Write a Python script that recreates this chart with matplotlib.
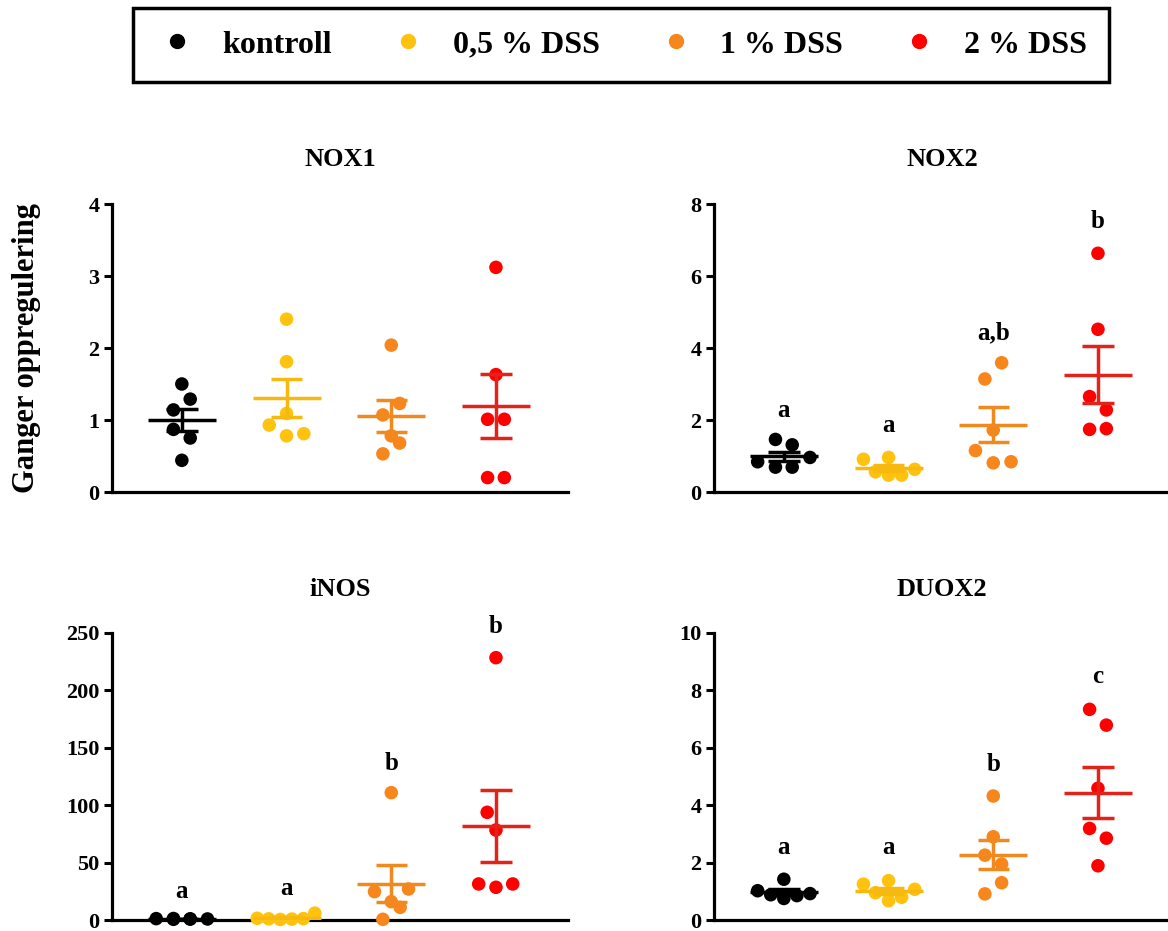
import numpy as np
import matplotlib
matplotlib.use('Agg')
import matplotlib.pyplot as plt
from matplotlib.lines import Line2D

plt.rcParams['font.family'] = ['Liberation Serif', 'DejaVu Serif']
plt.rcParams['font.weight'] = 'bold'

# groups and colours
groups = ['kontroll', '0,5 % DSS', '1 % DSS', '2 % DSS']
dot_colors = ['#000000', '#FFC20E', '#F7861C', '#FF0000']
line_colors = ['#000000', '#F7B90F', '#F08A1E', '#E2231A']

# fold change per gene, one list per group
nox1 = [[1.50, 1.29, 1.14, 0.87, 0.75, 0.44],
        [2.40, 1.81, 1.09, 0.93, 0.78, 0.81],
        [2.04, 1.23, 1.07, 0.78, 0.68, 0.53],
        [3.12, 1.63, 1.01, 1.01, 0.20, 0.20]]
nox2 = [[1.46, 1.31, 0.84, 0.69, 0.69, 0.96],
        [0.91, 0.96, 0.56, 0.47, 0.47, 0.63],
        [3.59, 3.14, 1.72, 1.15, 0.81, 0.84],
        [6.63, 4.52, 2.65, 2.28, 1.74, 1.76]]
inos = [[1.2, 0.6, 1.0, 0.9, 1.3, 0.8],
        [1.5, 1.0, 0.5, 0.8, 1.2, 6.0],
        [110.9, 24.7, 27.0, 16.0, 11.0, 0.6],
        [228.5, 93.8, 78.4, 31.4, 28.5, 31.4]]
duox2 = [[1.42, 1.02, 0.88, 0.75, 0.85, 0.92],
         [1.25, 1.37, 0.95, 0.67, 0.79, 1.07],
         [4.32, 2.90, 2.26, 1.95, 1.30, 0.91],
         [7.34, 6.79, 4.59, 3.19, 2.85, 1.89]]

# horizontal scatter of the dots within a group
nox1_jit = [[0, 0.08, -0.08, -0.08, 0.08, 0],
            [0, 0, 0, -0.165, 0, 0.165],
            [0, 0.08, -0.08, 0, 0.08, -0.08],
            [0, 0, -0.08, 0.08, -0.08, 0.08]]
nox2_jit = [[-0.08, 0.08, -0.25, -0.08, 0.08, 0.25],
            [-0.24, 0, -0.125, 0, 0.125, 0.25],
            [0.08, -0.08, 0, -0.17, 0, 0.17],
            [0, 0, -0.08, 0.08, -0.08, 0.08]]
inos_jit = [[-0.245, -0.08, 0.08, 0.245, -0.08, 0.08],
            [-0.28, -0.17, -0.06, 0.05, 0.16, 0.27],
            [0, -0.16, 0.165, 0, 0.085, -0.08],
            [0, -0.084, 0, -0.165, 0, 0.16]]
duox2_jit = [[0, -0.25, -0.125, 0, 0.125, 0.25],
             [-0.24, 0, -0.125, 0, 0.125, 0.25],
             [0, 0, -0.08, 0.08, 0.08, -0.08],
             [-0.08, 0.08, 0, -0.08, 0.08, 0]]

# significance letters and their heights
nox2_letters = ['a', 'a', 'a,b', 'b']
nox2_letter_y = [2.08, 1.67, 4.25, 7.33]
inos_letters = ['a', 'a', 'b', 'b']
inos_letter_y = [19, 22, 131, 250]
duox2_letters = ['a', 'a', 'b', 'c']
duox2_letter_y = [2.3, 2.3, 5.19, 8.26]

W, H = 1168, 931
fig = plt.figure(figsize=(W/100, H/100), dpi=100)

def box(x0, ytop, ybot, w=456):
    return [x0/W, 1 - ybot/H, w/W, (ybot - ytop)/H]

panels = [
    ('NOX1', nox1, nox1_jit, None, None, 4, 1, box(112, 204, 492)),
    ('NOX2', nox2, nox2_jit, nox2_letters, nox2_letter_y, 8, 2, box(714, 204, 492)),
    ('iNOS', inos, inos_jit, inos_letters, inos_letter_y, 250, 50, box(112, 633, 920)),
    ('DUOX2', duox2, duox2_jit, duox2_letters, duox2_letter_y, 10, 2, box(714, 633, 920)),
]

for title, vals, jit, letters, letter_y, ymax, step, rect in panels:
    ax = fig.add_axes(rect)
    for i in range(4):
        v = np.array(vals[i])
        x = i + np.array(jit[i])
        ax.scatter(x, v, s=95, color=dot_colors[i], edgecolors='none',
                   zorder=3, clip_on=False)
        m = v.mean()
        sem = v.std(ddof=1) / np.sqrt(len(v))
        ax.hlines(m, i - 0.325, i + 0.325, color=line_colors[i], lw=2.5, zorder=4)
        ax.hlines([m - sem, m + sem], i - 0.15, i + 0.15, color=line_colors[i], lw=2.5, zorder=4)
        ax.vlines(i, m - sem, m + sem, color=line_colors[i], lw=2.5, zorder=4)
        if letters is not None:
            ax.text(i, letter_y[i], letters[i], ha='center', va='baseline',
                    fontsize=18, fontweight='bold')
    ax.set_xlim(-0.667, 3.688)
    ax.set_ylim(0, ymax)
    ax.set_yticks(np.arange(0, ymax + step, step))
    ax.set_xticks([])
    for s in ['top', 'right']:
        ax.spines[s].set_visible(False)
    for s in ['left', 'bottom']:
        ax.spines[s].set_linewidth(2.3)
    ax.tick_params(axis='y', direction='out', length=6, width=2.2, pad=3,
                   labelsize=16)
    for lab in ax.get_yticklabels():
        lab.set_fontweight('bold')
    ax.set_title(title, fontsize=19, fontweight='bold', pad=27)

fig.text(27/W, 1 - 348/H, 'Ganger oppregulering', rotation=90, ha='center',
         va='center', fontsize=22, fontweight='bold')

handles = [Line2D([], [], ls='none', marker='o', markersize=10, color=c)
           for c in dot_colors]
leg = fig.legend(handles, groups, ncol=4, loc='center',
                 bbox_to_anchor=(621/W, 1 - 45/H), frameon=True, fancybox=False,
                 edgecolor='black', framealpha=1, prop={'weight': 'bold', 'size': 23},
                 handlelength=1.4, handletextpad=0.7, columnspacing=1.68,
                 borderpad=0.7)
leg.get_frame().set_linewidth(2.5)

fig.savefig('out.png', dpi=100)
